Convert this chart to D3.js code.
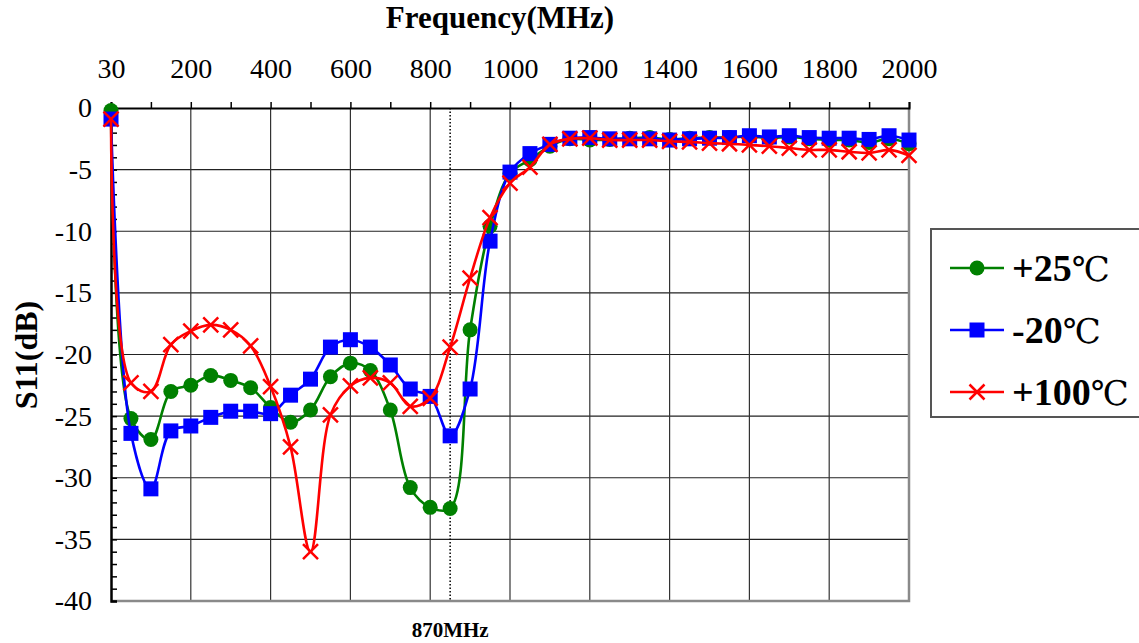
<!DOCTYPE html>
<html>
<head>
<meta charset="utf-8">
<script src="https://cdn.jsdelivr.net/npm/d3@7"></script>
<style>
  body { margin: 0; background: #fff; }
  svg text { font-family: "Liberation Serif", "DejaVu Serif", "Times New Roman", serif !important; fill: #000; }
</style>
</head>
<body>
<div id="chart"></div>
<script>
// frequency categories (MHz), evenly spaced like an Excel category axis
var freqs = [30, 50, 100, 150, 200, 250, 300, 350, 400, 450, 500, 550, 600, 650, 700, 750,
             800, 850, 900, 950, 1000, 1050, 1100, 1150, 1200, 1250, 1300, 1350, 1400, 1450,
             1500, 1550, 1600, 1650, 1700, 1750, 1800, 1850, 1900, 1950, 2000];
var xLabels = [30, 200, 400, 600, 800, 1000, 1200, 1400, 1600, 1800, 2000];
var yTicks = [0, -5, -10, -15, -20, -25, -30, -35, -40];

var s25 = [-0.2, -25.2, -26.9, -23.0, -22.5, -21.7, -22.1, -22.7, -24.3, -25.5, -24.5, -21.8, -20.7,
           -21.3, -24.5, -30.8, -32.4, -32.5, -18.0, -9.6, -5.3, -4.2, -3.1, -2.5, -2.6, -2.55,
           -2.45, -2.4, -2.55, -2.45, -2.4, -2.4, -2.3, -2.45, -2.35, -2.5, -2.6, -2.6, -2.8, -2.5, -2.9];
var sMinus20 = [-0.9, -26.4, -30.9, -26.2, -25.8, -25.1, -24.6, -24.6, -24.8, -23.3, -22.0, -19.4, -18.8,
           -19.4, -20.85, -22.8, -23.4, -26.6, -22.8, -10.8, -5.2, -3.7, -2.95, -2.45, -2.4, -2.5,
           -2.5, -2.5, -2.6, -2.5, -2.45, -2.4, -2.25, -2.35, -2.25, -2.4, -2.45, -2.45, -2.55, -2.25, -2.6];
var s100 = [-0.9, -22.3, -23.0, -19.2, -18.1, -17.6, -18.0, -19.3, -22.6, -27.5, -36.0, -24.9, -22.55,
           -21.9, -22.3, -24.2, -23.55, -19.4, -13.8, -8.9, -6.1, -4.8, -2.95, -2.5, -2.45, -2.6,
           -2.6, -2.6, -2.7, -2.75, -2.85, -2.9, -3.0, -3.1, -3.25, -3.4, -3.4, -3.55, -3.65, -3.4, -3.85];

var seriesNames = ["+25", "-20", "+100"];
var markerCat = 850;      // category where the dotted marker sits
var markerLabel = "870MHz";

var width = 1139,
    height = 643,
    pLeft = 111, pRight = 909, pTop = 108, pBottom = 601;
var serif = "'Liberation Serif', 'DejaVu Serif', 'Times New Roman', serif";

var series = [
  {name: seriesNames[0], values: s25, color: "#008000", marker: "circle"},
  {name: seriesNames[1], values: sMinus20, color: "#0000ff", marker: "square"},
  {name: seriesNames[2], values: s100, color: "#ff0000", marker: "cross"}
];

var x = d3.scalePoint().domain(freqs).range([pLeft, pRight]);
var y = d3.scaleLinear().domain([-40, 0]).range([pBottom, pTop]);

var svg = d3.select("#chart").append("svg")
    .attr("width", width)
    .attr("height", height)
    .attr("font-family", serif);

// grid
svg.append("g").selectAll("line")
    .data(yTicks.filter(function(d){ return d < 0 && d > -40; }))
    .enter().append("line")
    .attr("x1", pLeft).attr("x2", pRight)
    .attr("y1", function(d){ return y(d); }).attr("y2", function(d){ return y(d); })
    .attr("stroke", "#222").attr("stroke-width", 1.2);

svg.append("g").selectAll("line")
    .data(xLabels.filter(function(d){ return d != 30 && d != 2000; }))
    .enter().append("line")
    .attr("x1", function(d){ return x(d); }).attr("x2", function(d){ return x(d); })
    .attr("y1", pTop).attr("y2", pBottom)
    .attr("stroke", "#333").attr("stroke-width", 1.2);

// right and bottom frame
svg.append("path")
    .attr("d", "M" + pRight + "," + pTop + "V" + pBottom + "H" + pLeft)
    .attr("fill", "none").attr("stroke", "#8a8a8a").attr("stroke-width", 2.5);

// 870MHz marker
svg.append("line")
    .attr("x1", x(markerCat)).attr("x2", x(markerCat))
    .attr("y1", pTop).attr("y2", pBottom)
    .attr("stroke", "#000").attr("stroke-width", 1.5)
    .attr("stroke-dasharray", "1.5,2");

svg.append("text")
    .attr("x", x(markerCat)).attr("y", 637)
    .attr("text-anchor", "middle")
    .style("font-size", "21px").style("font-weight", "bold")
    .text(markerLabel);

// top axis
var xAxis = d3.axisTop(x)
    .tickValues(freqs.filter(function(d, i){ return i % 2 == 0; }))
    .tickSize(6)
    .tickPadding(24)
    .tickFormat(function(d){ return xLabels.indexOf(d) >= 0 ? d : ""; });

var gx = svg.append("g")
    .attr("transform", "translate(0," + pTop + ")")
    .call(xAxis)
    .attr("font-family", serif);
gx.select(".domain").attr("stroke", "#000").attr("stroke-width", 2);
gx.selectAll(".tick line").attr("stroke", "#000").attr("stroke-width", 1.5);
gx.selectAll("text").style("font-size", "28px");

// left axis labels
var yAxis = d3.axisLeft(y).tickValues(yTicks).tickSize(0).tickPadding(19)
    .tickFormat(function(d){ return d < 0 ? "-" + (-d) : d; });
var gy = svg.append("g")
    .attr("transform", "translate(" + pLeft + ",0)")
    .call(yAxis)
    .attr("font-family", serif);
gy.select(".domain").remove();
gy.selectAll("text").style("font-size", "28px");

// inner minor ticks every 1 dB
var gm = svg.append("g")
    .attr("transform", "translate(" + pLeft + ",0)")
    .call(d3.axisRight(y).ticks(40).tickSize(6).tickFormat(""));
gm.select(".domain").attr("stroke", "#000").attr("stroke-width", 2.5);
gm.selectAll(".tick line").attr("stroke", "#000").attr("stroke-width", 1.5);

// titles
svg.append("text")
    .attr("x", 500).attr("y", 28)
    .attr("text-anchor", "middle")
    .style("font-size", "31px").style("font-weight", "bold")
    .text("Frequency(MHz)");

svg.append("text")
    .attr("transform", "translate(37,355) rotate(-90)")
    .attr("text-anchor", "middle")
    .style("font-size", "32px").style("font-weight", "bold")
    .text("S11(dB)");

// lines and markers
var line = d3.line()
    .x(function(d, i){ return x(freqs[i]); })
    .y(function(d){ return y(d); })
    .curve(d3.curveCatmullRom.alpha(0.5));

function drawMarker(g, type, color, cx, cy) {
  if (type == "circle") {
    g.append("circle").attr("cx", cx).attr("cy", cy).attr("r", 7.5).attr("fill", color);
  } else if (type == "square") {
    g.append("rect").attr("x", cx - 7.5).attr("y", cy - 7.5).attr("width", 15).attr("height", 15)
      .attr("fill", color);
  } else {
    g.append("path")
      .attr("d", "M" + (cx - 7.5) + "," + (cy - 7.5) + "L" + (cx + 7.5) + "," + (cy + 7.5) +
                 "M" + (cx - 7.5) + "," + (cy + 7.5) + "L" + (cx + 7.5) + "," + (cy - 7.5))
      .attr("stroke", color).attr("stroke-width", 2.5).attr("fill", "none");
  }
}

series.forEach(function(s){
  var g = svg.append("g");
  g.append("path")
    .attr("d", line(s.values))
    .attr("fill", "none")
    .attr("stroke", s.color)
    .attr("stroke-width", 2.6);
  s.values.forEach(function(v, i){
    drawMarker(g, s.marker, s.color, x(freqs[i]), y(v));
  });
});

// legend
var lg = svg.append("g");
lg.append("rect")
    .attr("x", 931).attr("y", 229).attr("width", 214).attr("height", 188)
    .attr("fill", "#fff").attr("stroke", "#555").attr("stroke-width", 2);

series.forEach(function(s, i){
  var cy = 268 + i * 62;
  lg.append("line")
    .attr("x1", 950).attr("x2", 1004).attr("y1", cy).attr("y2", cy)
    .attr("stroke", s.color).attr("stroke-width", 2.6);
  drawMarker(lg, s.marker, s.color, 977, cy);
  var t = lg.append("text")
    .attr("x", 1012).attr("y", cy + 13)
    .style("font-size", "38px");
  t.append("tspan").style("font-weight", "bold").text(s.name);
  t.append("tspan").style("font-size", "34px").text("℃");
});
</script>
</body>
</html>
